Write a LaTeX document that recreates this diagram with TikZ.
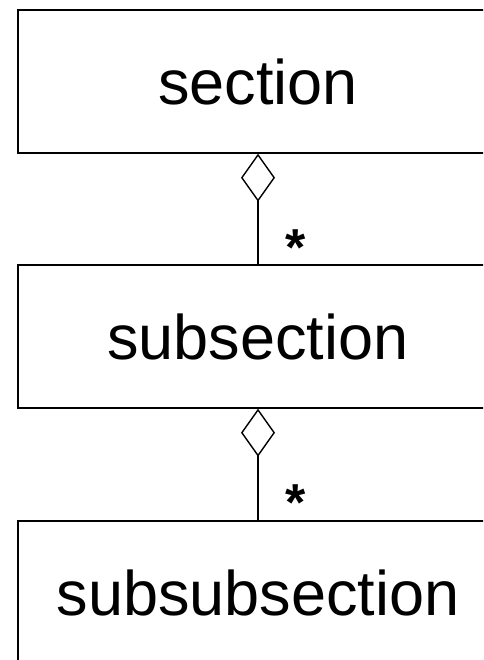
\documentclass[tikz,border=0pt]{standalone}
\usepackage{fontspec}
\setmainfont{Liberation Sans}
\usetikzlibrary{arrows.meta}
\begin{document}
\begin{tikzpicture}[x=1pt,y=-1pt,
  classbox/.style={draw=black,line width=1.4pt,minimum width=480pt,minimum height=143pt,inner sep=0pt,font=\fontsize{63}{70}\selectfont},
  aggr/.style={line width=1.4pt,-{Diamond[open,length=48pt,width=34pt,line width=1.4pt]}},
  mult/.style={font=\fontsize{52}{56}\selectfont\bfseries,inner sep=0pt,anchor=base}]
\useasboundingbox (0,0) rectangle (483,660);
\clip (0,0) rectangle (483,660);
\fill[white] (0,0) rectangle (483,660);
\node[classbox] (sec) at (258,81.5) {section};
\node[classbox] (subsec) at (258,336.5) {subsection};
\node[classbox] (subsubsec) at (258,592.5) {subsubsection};
\draw[aggr] (subsec.north) -- (sec.south);
\draw[aggr] (subsubsec.north) -- (subsec.south);
\node[mult] (m1) at (296,265) {*};
\node[mult] (m2) at (296,520) {*};
\end{tikzpicture}
\end{document}
